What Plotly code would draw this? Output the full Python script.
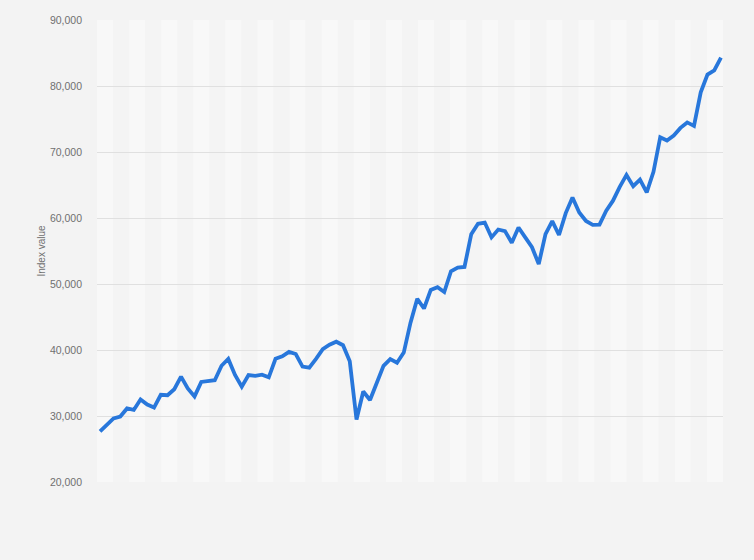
import plotly.graph_objects as go

months = [f"{y}-{m:02d}" for y in range(2017, 2025) for m in range(1, 13)][:93]

index_values = [
    27656, 28743, 29621, 29918, 31146, 30922, 32515, 31730, 31284, 33213, 33149, 34057,
    35965, 34184, 32969, 35160, 35322, 35423, 37607, 38645, 36227, 34442, 36194, 36068,
    36257, 35867, 38673, 39032, 39714, 39395, 37481, 37333, 38667, 40129, 40794, 41254,
    40723, 38297, 29468, 33718, 32424, 34916, 37607, 38628, 38068, 39614, 44150, 47751,
    46286, 49100, 49509, 48782, 51937, 52483, 52587, 57552, 59126, 59307, 57065, 58254,
    58014, 56247, 58569, 57061, 55566, 53019, 57570, 59537, 57427, 60747, 63100, 60841,
    59550, 58962, 58992, 61112, 62622, 64719, 66528, 64831, 65828, 63875, 66988, 72240,
    71752, 72500, 73651, 74483, 73961, 79033, 81741, 82365, 84300,
]

y_ticks = [20000, 30000, 40000, 50000, 60000, 70000, 80000, 90000]
y_tick_labels = ["20,000", "30,000", "40,000", "50,000", "60,000", "70,000", "80,000", "90,000"]

x_idx = list(range(len(index_values)))

fig = go.Figure()
fig.add_trace(go.Scatter(
    x=x_idx, y=index_values, mode="lines",
    line=dict(color="#2877db", width=3.8),
    hoverinfo="skip", showlegend=False,
))

# decorative background stripes
n_stripes = 39
shapes = []
for i in range(n_stripes):
    shapes.append(dict(
        type="rect", xref="paper", yref="paper",
        x0=i / n_stripes, x1=(i + 1) / n_stripes, y0=0, y1=1,
        fillcolor="#f8f8f8" if i % 2 == 0 else "#f4f4f4",
        line=dict(width=0), layer="below",
    ))

fig.update_layout(
    width=754, height=560,
    margin=dict(l=97, r=31, t=20, b=78),
    paper_bgcolor="#f3f3f3", plot_bgcolor="#f4f4f4",
    shapes=shapes,
    font=dict(family="Liberation Sans, Arial, sans-serif", color="#666666"),
    xaxis=dict(
        range=[-0.45, len(index_values) - 0.7],
        showticklabels=False, showgrid=False, zeroline=False, ticks="",
    ),
    yaxis=dict(
        range=[20000, 90000],
        tickvals=y_ticks, ticktext=y_tick_labels,
        tickfont=dict(size=10.5, color="#707070"),
        showgrid=True, gridcolor="#e0e0e0", gridwidth=1,
        zeroline=False, ticks="", ticklabelstandoff=14,
        title=dict(text="Index value", font=dict(size=10, color="#707070"), standoff=2),
    ),
)

fig.write_html(
    "out.html",
    config={"displayModeBar": False},
    post_script="document.body.style.margin='0px';document.body.style.background='#f3f3f3';",
)
